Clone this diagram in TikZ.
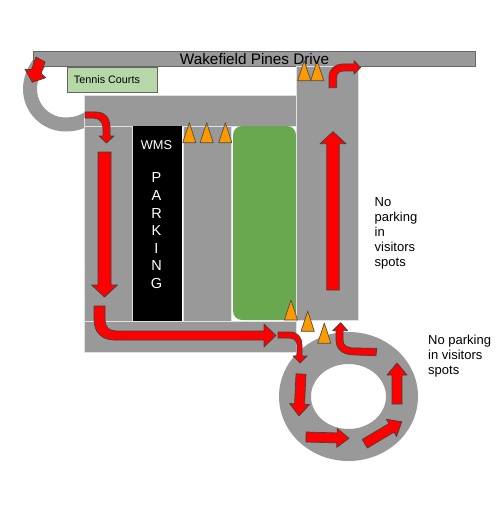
\documentclass[tikz,border=0pt]{standalone}
\usepackage{fontspec}
\setmainfont{Liberation Sans}
\definecolor{lotGray}{RGB}{153,153,153}
\definecolor{edgeGray}{RGB}{102,102,102}
\definecolor{lawnGreen}{RGB}{106,168,79}
\definecolor{courtGreen}{RGB}{182,215,168}
\definecolor{coneOrange}{RGB}{255,153,0}
\newcommand{\straightarrow}[6]{% x, y, canvas angle, length, shaft half width, head half width
  \draw[flow,shift={(#1,#2)},rotate=#3] (0,-#5) -- (#4-12,-#5) -- (#4-12,-#6) -- (#4,0) -- (#4-12,#6) -- (#4-12,#5) -- (0,#5) -- cycle;}
\newcommand{\cone}[3]{\draw[conemark] (#1,#2) -- (#1-6.6,#3) -- (#1+6.6,#3) -- cycle;}
\begin{document}
\begin{tikzpicture}[x=1pt,y=-1pt,
      lot/.style={fill=lotGray,draw=white!70!lotGray,line width=0.7pt},
      flow/.style={fill=red,draw=black!75,line width=0.7pt,line join=round},
      conemark/.style={fill=coneOrange,draw=black!70,line width=0.7pt,line join=round},
      note/.style={font=\fontsize{13}{15}\selectfont,align=left,anchor=north west,inner sep=0pt}]
    \useasboundingbox (0,0) rectangle (500,532);
    % street and driveway
    \draw[lotGray,line width=14pt] (40,62) .. controls (34,70) and (30,79) .. (30,89)
      .. controls (30,108.6) and (45.9,124.5) .. (65.5,124.5) .. controls (75,124.5) and (83,122) .. (90,117);
    \draw[fill=lotGray,draw=edgeGray,line width=0.8pt] (33,51) rectangle (475,66);
    \filldraw[fill=courtGreen,draw=edgeGray,line width=0.8pt] (67,67) rectangle (157,92);
    % parking lot
    \path[lot] (84,95) rectangle (296,126);
    \path[lot] (84,126) rectangle (132,321);
    \path[fill=black] (133,126) rectangle (182,321);
    \path[lot] (183,126) rectangle (231,321);
    \path[fill=lawnGreen,rounded corners=9pt] (233,126) rectangle (296,320);
    \path[lot] (84,321) rectangle (296,352);
    \path[lot] (296,66) rectangle (358,320);
    % visitor loop
    \path[fill=lotGray,even odd rule] (348.5,396.5) ellipse[x radius=69.5,y radius=64.5]
      (348.5,396.5) ellipse[x radius=37.5,y radius=32.5];
    % arrows
    \draw[flow] (36,57) -- (45,62) -- (41,73.5) -- (45.7,77.7) -- (32.3,82.3) -- (25,69.3) -- (31.5,69.5) -- cycle;
    \draw[flow] (85,112) -- (96,112) .. controls (105,112) and (110,118) .. (110,127) -- (110,136) -- (114,136) -- (106.5,143) -- (99,136) -- (103,136) -- (103,128) .. controls (103,122) and (99,118) .. (93,118) -- (85,118) -- cycle;
    \straightarrow{104.5}{152}{-90}{145}{6.5}{13}
    \draw[flow] (94,306) -- (105,306) -- (105,320) .. controls (105,327) and (109,331) .. (116,331) -- (264,331) -- (264,324) -- (276,335.5) -- (264,347) -- (264,340) -- (114,340) .. controls (102,340) and (94,332) .. (94,320) -- cycle;
    \draw[flow] (278,332) -- (290,332) .. controls (298,332) and (302,338) .. (302,345) -- (302,356) -- (307,356) -- (300,363) -- (293,356) -- (297,356) -- (297,345) .. controls (297,341) and (294,338) .. (289,338) -- (278,338) -- cycle;
    \straightarrow{301}{374}{-92.7}{42}{5}{10}
    \straightarrow{306}{437}{-1.7}{43}{5}{9.5}
    \straightarrow{364.8}{443.7}{30.7}{43}{5}{10}
    \straightarrow{397}{404}{90}{41}{5}{10}
    \draw[flow] (376.7,348.3) -- (376,355.7) -- (355,355) .. controls (342,355) and (336,349) .. (336,340) -- (336,330.7) -- (332.7,330.7) -- (340.7,322.7) -- (347.7,330.7) -- (343,330.7) -- (343,340) .. controls (343,346) and (347,348) .. (355,348) -- cycle;
    \straightarrow{333}{290}{90}{158.3}{6.3}{13}
    \draw[flow] (329,87.7) -- (329,77) .. controls (329,69) and (335,64) .. (343,64) -- (354,64) -- (354,60.7) -- (360.7,67.5) -- (354,74) -- (354,71) -- (344,71) .. controls (339,71) and (336.7,73) .. (336.7,78) -- (336.7,87.7) -- cycle;
    % cones
    \cone{189.3}{122.7}{142.7}
    \cone{206.7}{122.7}{142.7}
    \cone{225.3}{122.7}{142.7}
    \cone{304.2}{60.7}{80.7}
    \cone{317.2}{60.7}{80.7}
    \cone{291}{300}{320}
    \cone{307.7}{311}{331.3}
    \cone{324.3}{323}{343.3}
    % text
    \node[font=\fontsize{15.3}{18}\selectfont,inner sep=0pt] (street) at (254.5,59) {Wakefield Pines Drive};
    \node[font=\fontsize{10.8}{13}\selectfont,inner sep=0pt] (courts) at (107,79.5) {Tennis Courts};
    \node[font=\fontsize{12.8}{15}\selectfont,text=white,inner sep=0pt] (wms) at (156.5,145) {WMS};
    \node[font=\fontsize{14.5}{17.6}\selectfont,text=white,align=center,inner sep=0pt,anchor=north] (parking) at (156.5,172.7) {P\\A\\R\\K\\I\\N\\G};
    \node[note] (lotnote) at (374.5,197.6) {No\\parking\\in\\visitors\\spots};
    \node[note] (loopnote) at (428,334.6) {No parking\\in visitors\\spots};
\end{tikzpicture}
\end{document}
